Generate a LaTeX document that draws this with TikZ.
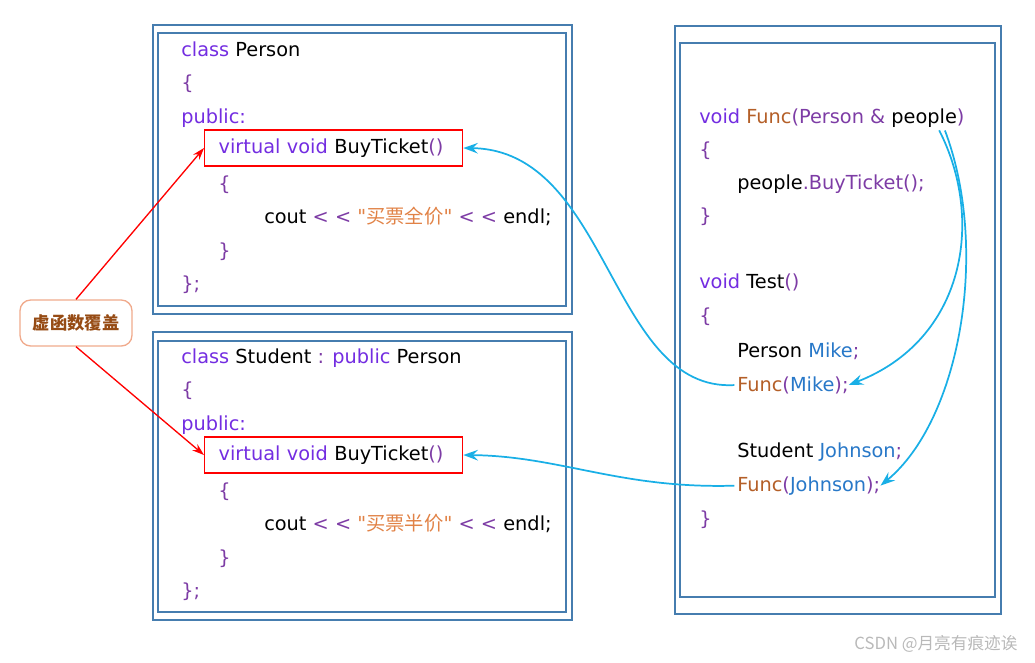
\documentclass[tikz,border=0pt]{standalone}
\usepackage{fontspec}
\setmainfont{DejaVu Sans}[Ligatures=TeXOff]
\newfontfamily\cjk{Noto Sans CJK SC}
\usepackage{tikz}
\usetikzlibrary{positioning,arrows.meta}
\usepackage{xcolor}

\definecolor{kwc}{RGB}{115,45,225}
\definecolor{punc}{RGB}{125,60,165}
\definecolor{func}{RGB}{180,95,40}
\definecolor{varc}{RGB}{40,120,200}
\definecolor{strc}{RGB}{225,130,70}
\definecolor{frame}{RGB}{70,125,175}
\definecolor{link}{RGB}{25,175,230}
\definecolor{tagline}{RGB}{240,170,140}
\definecolor{tagtext}{RGB}{150,75,20}

\newcommand{\ckw}[1]{\textcolor{kwc}{#1}}
\newcommand{\cpun}[1]{\textcolor{punc}{#1}}
\newcommand{\cfun}[1]{\textcolor{func}{#1}}
\newcommand{\cvar}[1]{\textcolor{varc}{#1}}
\newcommand{\cstr}[1]{\textcolor{strc}{"{\cjk #1}"}}

\tikzset{
  framebox/.style={draw=frame,line width=1.6pt},
  code/.style={anchor=base west,inner sep=0pt},
  vbox/.style={draw=red,line width=1pt,anchor=west,inner xsep=10.5pt,
    text width=172.5pt,minimum height=27pt,align=left},
  tag/.style={draw=tagline,line width=1pt,rounded corners=8pt,text=tagtext,
    font=\fontsize{13}{15}\selectfont\cjk\bfseries,minimum width=84pt,minimum height=34.5pt},
  hit/.style={draw=red,line width=1pt,-{Stealth[length=9pt,width=6pt]}},
  call/.style={draw=link,line width=1.3pt,shorten <=2pt,-{Stealth[length=11pt,width=8pt,inset=4pt]}},
  wmark/.style={text=gray!55,font=\fontsize{12.5}{14}\selectfont\cjk}
}

\begin{document}
\begin{tikzpicture}[x=0.75pt,y=-0.75pt,every node/.style={font=\fontsize{14.5}{16}\selectfont}]
\useasboundingbox (0,0) rectangle (1035,662);

% frames
\draw[framebox] (153,25) rectangle (572,314);
\draw[framebox] (158,33) rectangle (566,306);
\draw[framebox] (153,332) rectangle (572,620);
\draw[framebox] (158,341) rectangle (566,612);
\draw[framebox] (675,26) rectangle (1001,614);
\draw[framebox] (680,43) rectangle (995,597);

% class Person
\node[code] (p1) at (181,56) {\ckw{class} Person};
\node[code] (p2) at (181,89) {\cpun{\{}};
\node[code] (p3) at (181,123) {\ckw{public:}};
\node[vbox] (pbuy) at (204,148) {\ckw{virtual void} BuyTicket\cpun{()}};
\node[code] (p5) at (218,190) {\cpun{\{}};
\node[code] (p6) at (264,223) {cout \cpun{< <} \cstr{买票全价} \cpun{< <} endl;};
\node[code] (p7) at (218,257) {\cpun{\}}};
\node[code] (p8) at (181,290) {\cpun{\};}};

% class Student
\node[code] (s1) at (181,363) {\ckw{class} Student \cpun{:} \ckw{public} Person};
\node[code] (s2) at (181,396) {\cpun{\{}};
\node[code] (s3) at (181,430) {\ckw{public:}};
\node[vbox] (sbuy) at (204,455) {\ckw{virtual void} BuyTicket\cpun{()}};
\node[code] (s5) at (218,497) {\cpun{\{}};
\node[code] (s6) at (264,530) {cout \cpun{< <} \cstr{买票半价} \cpun{< <} endl;};
\node[code] (s7) at (218,564) {\cpun{\}}};
\node[code] (s8) at (181,597) {\cpun{\};}};

% Func / Test
\node[code] (r1) at (699,123) {\ckw{void} \cfun{Func}\cpun{(Person \& }people\cpun{)}};
\node[code] (r2) at (699,156) {\cpun{\{}};
\node[code] (r3) at (737,189) {people\cpun{.BuyTicket();}};
\node[code] (r4) at (699,222) {\cpun{\}}};
\node[code] (r5) at (699,288) {\ckw{void} Test\cpun{()}};
\node[code] (r6) at (699,322) {\cpun{\{}};
\node[code] (r7) at (737,357) {Person \cvar{Mike}\cpun{;}};
\node[code] (fmike) at (737,391) {\cfun{Func}\cpun{(}\cvar{Mike}\cpun{);}};
\node[code] (r9) at (737,457) {Student \cvar{Johnson}\cpun{;}};
\node[code] (fjohn) at (737,491) {\cfun{Func}\cpun{(}\cvar{Johnson}\cpun{);}};
\node[code] (r11) at (699,525) {\cpun{\}}};

% label
\node[tag] (lbl) at (76,323) {虚函数覆盖};
\draw[hit] (lbl.north) -- (pbuy.west);
\draw[hit] (lbl.south) -- (sbuy.west);

% calls
\coordinate (pp) at (938,128);
\coordinate (pq) at (944,128);
\draw[call] (fmike.west) .. controls (610,392) and (610,150) .. (pbuy.east);
\draw[call] (fjohn.west) .. controls (620,489) and (560,456) .. (sbuy.east);
\draw[call] (pp) .. controls (985,220) and (965,340) .. (fmike.east);
\draw[call] (pq) .. controls (990,250) and (960,420) .. (fjohn.east);

\node[wmark] (wm) at (936,644) {CSDN @月亮有痕迹诶};
\end{tikzpicture}
\end{document}
